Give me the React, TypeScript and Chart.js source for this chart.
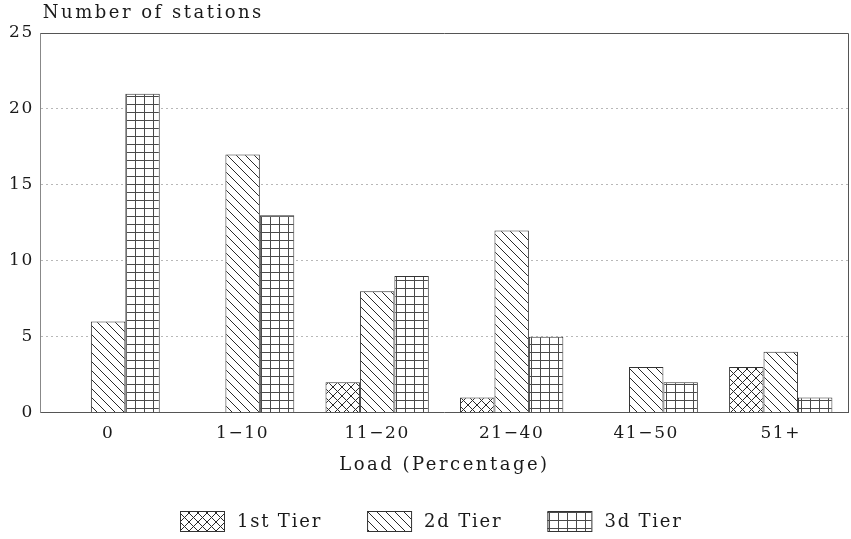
import React, { useEffect, useRef } from 'react';
import { Chart, registerables } from 'chart.js';

Chart.register(...registerables);

const categories = ['0', '1\u221210', '11\u221220', '21\u221240', '41\u221250', '51+'];
const tier1 = [0, 0, 2, 1, 0, 3];
const tier2 = [6, 17, 8, 12, 3, 4];
const tier3 = [21, 13, 9, 5, 2, 1];
const seriesLabels = ['1st Tier', '2d Tier', '3d Tier'];
const yTicks = [0, 5, 10, 15, 20, 25];
const yTitle = 'Number of stations';
const xTitle = 'Load (Percentage)';

const FONT_FAMILY = '"DejaVu Serif", serif';
const LS_TICKS = '1.6px';
const LS_TITLE = '2.5px';
const LS_LEGEND = '1.8px';
const INK = '#1a1a1a';

function makePattern(kind: string): CanvasPattern | string {
  const w = 9;
  const h = kind === 'grid' ? 8 : 9;
  const c = document.createElement('canvas');
  c.width = w;
  c.height = h;
  const g = c.getContext('2d');
  if (!g) return '#fff';
  g.fillStyle = '#fff';
  g.fillRect(0, 0, w, h);
  g.strokeStyle = kind === 'grid' ? '#4a4a4a' : '#2a2a2a';
  g.lineWidth = 1;
  g.beginPath();
  if (kind === 'grid') {
    g.moveTo(0, 0.5);
    g.lineTo(w, 0.5);
    g.moveTo(0.5, 0);
    g.lineTo(0.5, h);
  }
  if (kind === 'back' || kind === 'cross') {
    g.moveTo(-2, -2);
    g.lineTo(w + 2, h + 2);
  }
  if (kind === 'cross') {
    g.moveTo(w + 2, -2);
    g.lineTo(-2, h + 2);
  }
  g.stroke();
  return g.createPattern(c, 'repeat') || '#fff';
}

export default function App() {
  const ref = useRef<HTMLCanvasElement | null>(null);

  useEffect(() => {
    document.body.style.margin = '0';
    const canvas = ref.current;
    if (!canvas) return;
    const patterns = [makePattern('cross'), makePattern('back'), makePattern('grid')];

    const decor = {
      id: 'decor',
      beforeUpdate(chart: any) {
        chart.ctx.letterSpacing = LS_TICKS;
      },
      beforeLayout(chart: any) {
        chart.ctx.letterSpacing = LS_TICKS;
      },
      beforeDraw(chart: any) {
        const ctx = chart.ctx;
        ctx.letterSpacing = LS_TICKS;
        ctx.save();
        ctx.fillStyle = '#fff';
        ctx.fillRect(0, 0, chart.width, chart.height);
        ctx.restore();
      },
      afterDraw(chart: any) {
        const ctx = chart.ctx;
        const { left, top, right, bottom } = chart.chartArea;
        ctx.save();
        // frame top and right
        ctx.strokeStyle = '#555';
        ctx.lineWidth = 1;
        ctx.setLineDash([]);
        ctx.beginPath();
        ctx.moveTo(left, Math.round(top) + 0.5);
        ctx.lineTo(Math.round(right) + 0.5, Math.round(top) + 0.5);
        ctx.lineTo(Math.round(right) + 0.5, bottom);
        ctx.stroke();

        // axis titles
        ctx.font = `18px ${FONT_FAMILY}`;
        ctx.fillStyle = INK;
        ctx.letterSpacing = LS_TITLE;
        ctx.textAlign = 'left';
        ctx.textBaseline = 'alphabetic';
        ctx.fillText(yTitle, left + 2, 18);
        const xw = ctx.measureText(xTitle).width;
        ctx.fillText(xTitle, (left + right) / 2 - xw / 2, 470);

        // legend
        ctx.letterSpacing = LS_LEGEND;
        const boxW = 44;
        const boxH = 20;
        const gapText = 13;
        const gapItem = 45;
        const widths = seriesLabels.map((l) => ctx.measureText(l).width);
        const total = widths.reduce((a, w) => a + boxW + gapText + w, 0) + gapItem * (seriesLabels.length - 1);
        let x = Math.round(431 - total / 2);
        const y = 511;
        seriesLabels.forEach((label, i) => {
          ctx.fillStyle = patterns[i];
          ctx.fillRect(x, y, boxW, boxH);
          ctx.strokeStyle = '#333';
          ctx.strokeRect(x + 0.5, y + 0.5, boxW, boxH);
          ctx.fillStyle = INK;
          ctx.textBaseline = 'alphabetic';
          ctx.fillText(label, x + boxW + gapText, 527);
          x += boxW + gapText + widths[i] + gapItem;
        });
        ctx.restore();
      },
    };

    const chart = new Chart(canvas, {
      type: 'bar',
      data: {
        labels: categories,
        datasets: [tier1, tier2, tier3].map((d, i) => ({
          label: seriesLabels[i],
          data: d,
          backgroundColor: patterns[i] as any,
          borderColor: '#333',
          borderWidth: 1,
          borderSkipped: 'bottom' as const,
          categoryPercentage: 0.768,
          barPercentage: 1,
        })),
      },
      options: {
        animation: false,
        responsive: false,
        devicePixelRatio: 1,
        layout: { padding: { left: 2, right: 3, top: 33, bottom: 84 } },
        plugins: {
          legend: { display: false },
          tooltip: { enabled: false },
          title: { display: false },
        },
        scales: {
          x: {
            grid: { display: false, drawTicks: false },
            border: { display: true, color: '#555', width: 1 },
            ticks: {
              color: INK,
              font: { family: FONT_FAMILY, size: 17 },
              padding: 11,
              maxRotation: 0,
            },
          },
          y: {
            min: 0,
            max: 25,
            afterBuildTicks: (scale: any) => {
              scale.ticks = yTicks.map((v) => ({ value: v }));
            },
            grid: {
              drawTicks: false,
              color: (c: any) => (c.tick && (c.tick.value === 0 || c.tick.value === 25) ? 'rgba(0,0,0,0)' : '#b8b8b8'),
              lineWidth: 1,
            },
            border: { display: true, color: '#888', width: 1, dash: [2, 3] },
            ticks: {
              color: INK,
              font: { family: FONT_FAMILY, size: 17 },
              padding: 7,
            },
          },
        },
      },
      plugins: [decor],
    });

    return () => chart.destroy();
  }, []);

  return (
    <div style={{ width: 851, height: 539, background: '#fff' }}>
      <canvas ref={ref} width={851} height={539} style={{ display: 'block' }} />
    </div>
  );
}
